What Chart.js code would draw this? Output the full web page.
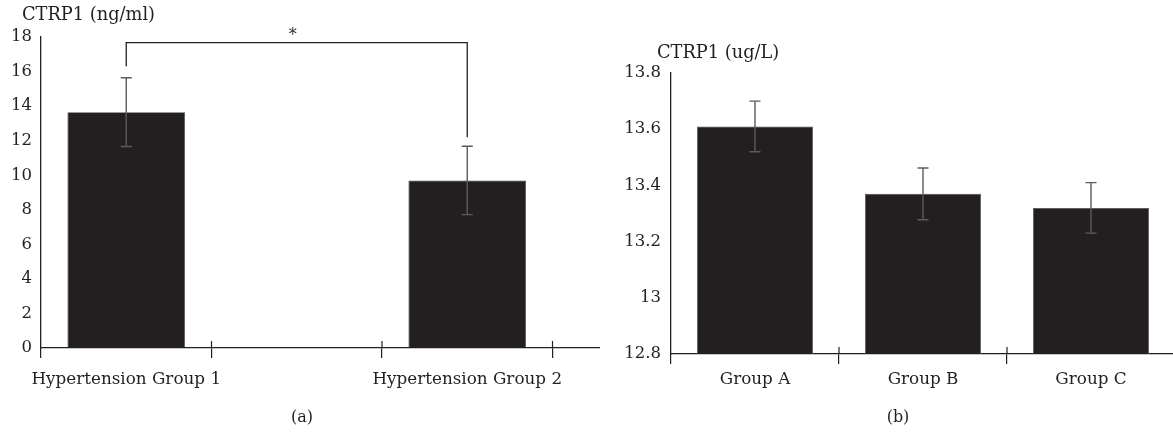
<!DOCTYPE html>
<html>
<head>
<meta charset="utf-8">
<script src="https://cdn.jsdelivr.net/npm/chart.js@4.4.1/dist/chart.umd.min.js"></script>
<style>
  html, body { margin: 0; padding: 0; background: #fff; overflow: hidden; width: 1173px; height: 434px; }
  #clipA { position: absolute; left: 0; top: 0; width: 600px; height: 434px; overflow: hidden; }
  #boxA { position: absolute; left: 0; top: 0; width: 723px; height: 434px; }
  #boxB { position: absolute; left: 600px; top: 0; width: 575px; height: 434px; }
</style>
</head>
<body>
<div id="clipA"><div id="boxA"><canvas id="chartA"></canvas></div></div>
<div id="boxB"><canvas id="chartB"></canvas></div>
<script>
// panel (a) - two groups, empty slots keep the original spacing
const groupsA = ['Hypertension Group 1', '', 'Hypertension Group 2', ''];
const meanA = [13.65, null, 9.7, null];
const errA = [1.99, null, 1.98, null];
const yTicksA = [0, 2, 4, 6, 8, 10, 12, 14, 16, 18];

// panel (b)
const groupsB = ['Group A', 'Group B', 'Group C'];
const meanB = [13.61, 13.37, 13.32];
const errB = [0.09, 0.092, 0.09];
const yTicksB = [12.8, 13, 13.2, 13.4, 13.6, 13.8];

const ink = '#231f20';
const serif = "'DejaVu Serif', 'Liberation Serif', serif";

// error bars on top of the bars
const errorBars = {
  id: 'errorBars',
  afterDatasetsDraw(chart, args, opts) {
    const { ctx } = chart;
    const x = chart.scales.x, y = chart.scales.y;
    const vals = chart.data.datasets[0].data;
    ctx.save();
    ctx.strokeStyle = '#5b5b5b';
    ctx.lineWidth = 1.4;
    opts.err.forEach((e, i) => {
      if (vals[i] == null || e == null) return;
      const px = x.getPixelForValue(i);
      const top = y.getPixelForValue(vals[i] + e);
      const bot = y.getPixelForValue(vals[i] - e);
      ctx.beginPath();
      ctx.moveTo(px, top); ctx.lineTo(px, bot);
      ctx.moveTo(px - 5.5, top); ctx.lineTo(px + 5.5, top);
      ctx.moveTo(px - 5.5, bot); ctx.lineTo(px + 5.5, bot);
      ctx.stroke();
    });
    ctx.restore();
  }
};

// unit text, panel caption, crossing ticks, significance bracket
const panelDecor = {
  id: 'panelDecor',
  afterDraw(chart, args, o) {
    const { ctx, chartArea } = chart;
    const x = chart.scales.x, y = chart.scales.y;
    ctx.save();
    ctx.fillStyle = ink;
    ctx.textBaseline = 'middle';
    ctx.textAlign = 'left';
    ctx.font = `${o.unitSize}px ${serif}`;
    ctx.fillText(o.unit, chartArea.left + o.unitDx, chartArea.top + o.unitDy);
    ctx.textAlign = 'center';
    ctx.font = `16px ${serif}`;
    ctx.fillText(o.caption, o.captionX, o.captionY);

    // ticks between categories poke above the axis too
    ctx.strokeStyle = ink;
    ctx.lineWidth = 1.2;
    for (let i = 1; i < x.ticks.length; i++) {
      const px = (x.getPixelForValue(i - 1) + x.getPixelForValue(i)) / 2;
      ctx.beginPath();
      ctx.moveTo(px, chartArea.bottom - 7);
      ctx.lineTo(px, chartArea.bottom);
      ctx.stroke();
    }

    if (o.sig) {
      const s = o.sig;
      const x1 = x.getPixelForValue(s.from), x2 = x.getPixelForValue(s.to);
      const yl = y.getPixelForValue(s.level);
      ctx.lineWidth = 1.3;
      ctx.beginPath();
      ctx.moveTo(x1, y.getPixelForValue(s.ends[0]));
      ctx.lineTo(x1, yl);
      ctx.lineTo(x2, yl);
      ctx.lineTo(x2, y.getPixelForValue(s.ends[1]));
      ctx.stroke();
      ctx.font = `16px ${serif}`;
      ctx.fillText(s.label, (x1 + x2) / 2 - 4, yl - 7);
    }
    ctx.restore();
  }
};

function makeChart(id, labels, data, err, yTicks, yMin, yMax, lay, decor) {
  return new Chart(document.getElementById(id), {
    type: 'bar',
    data: {
      labels: labels,
      datasets: [{
        data: data,
        backgroundColor: ink,
        borderColor: '#4a4a4a',
        borderWidth: 0.8,
        categoryPercentage: 1,
        barPercentage: 0.69
      }]
    },
    options: {
      responsive: true,
      maintainAspectRatio: false,
      animation: false,
      layout: { padding: { top: lay.top, left: 0, right: 0, bottom: 0 } },
      plugins: {
        legend: { display: false },
        tooltip: { enabled: false },
        title: { display: false },
        errorBars: { err: err },
        panelDecor: decor
      },
      scales: {
        x: {
          offset: true,
          grid: { offset: true, drawOnChartArea: false, drawTicks: true, tickLength: 10, color: ink, lineWidth: 1.2 },
          border: { display: true, color: ink, width: 1.3 },
          ticks: { color: ink, font: { family: serif, size: 16.8 }, padding: lay.xPad, maxRotation: 0, autoSkip: false },
          afterFit(s) { s.height = lay.xHeight; }
        },
        y: {
          min: yMin,
          max: yMax,
          afterBuildTicks(s) { s.ticks = yTicks.map(v => ({ value: v })); },
          grid: { drawOnChartArea: false, drawTicks: false },
          border: { display: true, color: ink, width: 1.3 },
          ticks: { color: ink, font: { family: serif, size: 16.5 }, padding: lay.yPad, callback: v => String(v) },
          afterFit(s) { s.width = lay.yWidth; }
        }
      }
    },
    plugins: [errorBars, panelDecor]
  });
}

makeChart('chartA', groupsA, meanA, errA, yTicksA, 0, 18,
  { top: 37, xHeight: 86, yWidth: 41, xPad: 12, yPad: 9 },
  { unit: 'CTRP1 (ng/ml)', unitSize: 17.8, unitDx: -19, unitDy: -22, caption: '(a)', captionX: 302, captionY: 418,
    sig: { from: 0, to: 2, level: 17.67, ends: [16.3, 12.2], label: '*' } });

makeChart('chartB', groupsB, meanB, errB, yTicksB, 12.8, 13.8,
  { top: 73, xHeight: 80, yWidth: 71, xPad: 6, yPad: 10 },
  { unit: 'CTRP1 (ug/L)', unitSize: 17.8, unitDx: -14, unitDy: -20, caption: '(b)', captionX: 298, captionY: 418 });
</script>
</body>
</html>
